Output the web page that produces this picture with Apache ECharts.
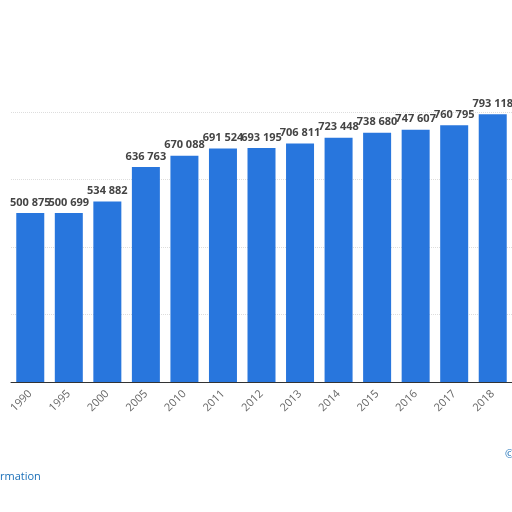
<!DOCTYPE html>
<html><head><meta charset="utf-8">
<script src="https://cdn.jsdelivr.net/npm/echarts@6/dist/echarts.min.js"></script>
<style>html,body{margin:0;padding:0;background:#fff}#c{width:512px;height:512px}</style>
</head><body><div id="c"></div>
<script>
const categories = ['1990','1995','2000','2005','2010','2011','2012','2013','2014','2015','2016','2017','2018'];
const values = [500875,500699,534882,636763,670088,691524,693195,706811,723448,738680,747607,760795,793118];
const chart = echarts.init(document.getElementById('c'));
chart.setOption({
  animation:false,
  grid:{left:11,right:-13,top:112,bottom:130,containLabel:false},
  xAxis:{type:'category',data:categories,
    axisLine:{lineStyle:{color:'#333',width:1}},axisTick:{show:false},
    axisLabel:{rotate:45,color:'#666',fontSize:11,fontFamily:'Open Sans',margin:10}},
  yAxis:{type:'value',min:0,max:800000,interval:200000,
    axisLabel:{show:false},axisLine:{show:false},axisTick:{show:false},
    splitLine:{lineStyle:{color:'#ddd',type:'dotted'}}},
  series:[{type:'bar',data:values,barWidth:28,itemStyle:{color:'#2876dd'},
    label:{show:true,position:'top',color:'#444',fontWeight:'bold',fontSize:11,fontFamily:'Open Sans',
      formatter:p=>String(p.value).replace(/\B(?=(\d{3})+(?!\d))/g,' ')}}],
  graphic:[
    {type:'text',left:0,top:471,style:{text:'rmation',fill:'#1a6fb8',font:'11px Open Sans'}},
    {type:'text',left:505,top:449,style:{text:'©',fill:'#1a6fb8',font:'11px Open Sans'}}
  ]
});
</script></body></html>
